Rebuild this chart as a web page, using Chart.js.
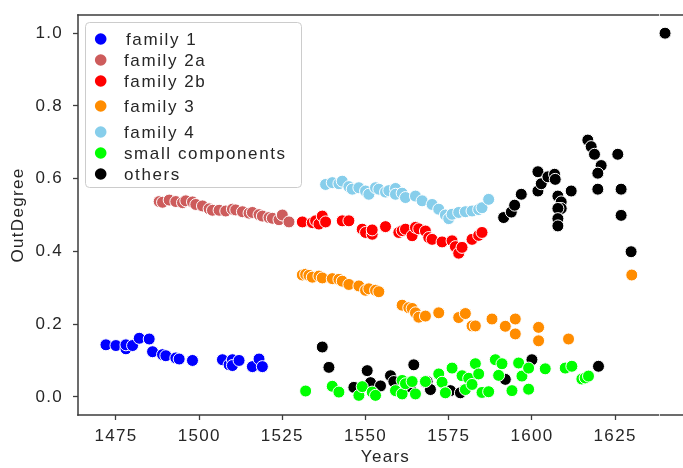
<!DOCTYPE html>
<html><head><meta charset="utf-8">
<script src="https://cdn.jsdelivr.net/npm/chart.js@4/dist/chart.umd.min.js"></script>
<style>
html,body{margin:0;padding:0;overflow:hidden;background:#fff;width:683px;height:468px;}
#wrap{position:absolute;left:0;top:0;width:700px;height:468px;}
canvas{display:block;}
</style></head><body>
<div id="wrap"><canvas id="c" width="700" height="468"></canvas></div>
<script>
// ---- data ----
const seriesNames = ["family 1","family 2a","family 2b","family 3","family 4","small components","others"];
const seriesColors = ["#0000ff","#cd5c5c","#ff0000","#ff8c00","#87ceeb","#00ff00","#000000"];

const fam1Years = [1472,1475,1478,1478,1480,1482,1485,1486,1489,1490,1493,1494,1498,1507,1509,1510,1510,1512,1516,1518,1519];
const fam1Vals  = [0.143,0.141,0.132,0.143,0.141,0.161,0.159,0.124,0.116,0.113,0.107,0.104,0.100,0.102,0.088,0.102,0.086,0.100,0.083,0.104,0.083];

const fam2aYears = [1488,1489,1491,1493,1495,1496,1498,1499,1501,1503,1504,1506,1508,1510,1511,1513,1515,1516,1518,1519,1521,1522,1524,1525,1527];
const fam2aVals  = [0.537,0.535,0.541,0.537,0.534,0.539,0.536,0.529,0.525,0.517,0.513,0.513,0.511,0.516,0.514,0.509,0.505,0.507,0.501,0.497,0.493,0.491,0.487,0.500,0.481];

const fam2bYears = [1531,1534,1535,1536,1537,1538,1543,1545,1549,1550,1552,1552,1556,1560,1561,1562,1564,1565,1566,1568,1569,1570,1573,1576,1577,1578,1579,1582,1584,1585];
const fam2bVals  = [0.481,0.479,0.484,0.475,0.497,0.481,0.484,0.484,0.461,0.452,0.447,0.459,0.468,0.452,0.457,0.461,0.443,0.466,0.462,0.456,0.438,0.433,0.426,0.429,0.413,0.395,0.411,0.433,0.444,0.452];

const fam3Years = [1531,1532,1533,1534,1536,1537,1540,1542,1543,1545,1548,1550,1551,1553,1554,1561,1563,1564,1565,1566,1568,1572,1578,1580,1582,1583,1588,1592,1595,1595,1602,1602,1611,1630];
const fam3Vals  = [0.335,0.337,0.334,0.329,0.332,0.327,0.325,0.323,0.318,0.309,0.305,0.293,0.297,0.293,0.289,0.252,0.245,0.243,0.231,0.219,0.222,0.231,0.218,0.229,0.195,0.195,0.214,0.194,0.214,0.173,0.191,0.154,0.159,0.335];

const fam4Years = [1538,1540,1542,1543,1545,1546,1548,1550,1551,1553,1554,1556,1557,1559,1559,1561,1562,1565,1567,1570,1572,1574,1575,1576,1578,1580,1582,1584,1585,1587];
const fam4Vals  = [0.584,0.589,0.586,0.593,0.578,0.571,0.575,0.566,0.557,0.575,0.571,0.563,0.567,0.573,0.557,0.560,0.548,0.552,0.539,0.529,0.516,0.500,0.490,0.502,0.507,0.509,0.511,0.515,0.520,0.543];

const smallYears = [1532,1540,1542,1548,1549,1552,1553,1559,1561,1561,1562,1564,1565,1568,1572,1573,1574,1574,1576,1579,1580,1581,1582,1583,1584,1585,1587,1589,1590,1591,1594,1596,1597,1599,1599,1604,1610,1612,1615,1616,1617];
const smallVals  = [0.016,0.029,0.013,0.004,0.028,0.013,0.004,0.017,0.045,0.008,0.036,0.042,0.008,0.042,0.063,0.040,0.011,0.011,0.079,0.058,0.020,0.051,0.034,0.091,0.063,0.012,0.014,0.102,0.059,0.091,0.017,0.093,0.057,0.079,0.021,0.077,0.079,0.084,0.049,0.052,0.057];

const otherYears = [1537,1539,1546.5,1550.5,1551.5,1554.5,1557.5,1558.5,1563.5,1564.5,1568,1568.5,1569.5,1575.5,1578.5,1592,1600,1620,
  1591.5,1593.8,1594.8,1596.8,1601.8,1601.8,1602.8,1604.8,1606.8,1607,1607.8,1608.8,1608.8,1607.8,1607.8,1607.8,1611.8,1616.8,1617.8,1618.8,1620.8,1619.8,1619.8,1625.8,1626.8,1626.8,1629.8,1640];
const otherVals  = [0.137,0.081,0.026,0.072,0.039,0.030,0.058,0.042,0.027,0.088,0.040,0.042,0.020,0.017,0.011,0.048,0.102,0.084,
  0.493,0.508,0.527,0.557,0.619,0.566,0.586,0.605,0.612,0.598,0.552,0.536,0.518,0.518,0.490,0.470,0.566,0.706,0.688,0.667,0.636,0.615,0.571,0.667,0.571,0.499,0.399,1.0];

const xTickVals = [1475,1500,1525,1550,1575,1600,1625];
const yTickVals = [0.0,0.2,0.4,0.6,0.8,1.0];
const xTitle = "Years";
const yTitle = "OutDegree";

// ---- build ----
const allYears = [fam1Years,fam2aYears,fam2bYears,fam3Years,fam4Years,smallYears,otherYears];
const allVals  = [fam1Vals,fam2aVals,fam2bVals,fam3Vals,fam4Vals,smallVals,otherVals];

const datasets = seriesNames.map((name,i)=>({
  label: name,
  data: allYears[i].map((x,j)=>({x:x,y:allVals[i][j]})),
  backgroundColor: seriesColors[i],
  borderColor: "#ffffff",
  borderWidth: 1,
  pointRadius: 6,
  pointHoverRadius: 6
}));

const FONT = "'Liberation Sans', Arial, sans-serif";
const TXT = "#262626";
const AXIS = "#3d3d3d";

const spacingPlugin = {
  id:'spacing',
  beforeDraw(chart){ chart.ctx.letterSpacing = '1.3px'; }
};

// spines drawn as filled bars (left, top, bottom); the right spine lies outside the visible window
const framePlugin = {
  id:'frame',
  beforeDatasetsDraw(chart){
    const a = chart.chartArea, ctx = chart.ctx;
    const w = 1.5, h = w / 2;
    ctx.save();
    ctx.fillStyle = AXIS;
    ctx.fillRect(a.left - h, a.top - h, 660 - a.left, w);
    ctx.fillRect(a.left - h, a.top - h, w, a.bottom - a.top + w);
    ctx.fillRect(a.left - h, a.bottom - h, 660 - a.left, w);
    ctx.fillRect(660, a.top - h, 40, w);
    ctx.fillRect(660, a.bottom - h, 40, w);
    ctx.restore();
  }
};

const legendPlugin = {
  id:'boxLegend',
  afterDatasetsDraw(chart){
    const ctx = chart.ctx;
    ctx.save();
    ctx.beginPath();
    ctx.roundRect(85.5,22.5,216,165,4);
    ctx.fillStyle = "rgba(255,255,255,0.85)";
    ctx.fill();
    ctx.strokeStyle = "#cccccc";
    ctx.lineWidth = 1;
    ctx.stroke();
    const rows = [39,60,81,106,132,153,174];
    ctx.font = "17px " + FONT;
    ctx.letterSpacing = '1.6px';
    ctx.textBaseline = 'middle';
    ctx.textAlign = 'left';
    chart.data.datasets.forEach((ds,i)=>{
      ctx.beginPath();
      ctx.arc(100.7, rows[i], 5.8, 0, Math.PI*2);
      ctx.fillStyle = ds.backgroundColor;
      ctx.fill();
      ctx.fillStyle = TXT;
      ctx.fillText(ds.label, i === 0 ? 126 : 124, rows[i]+1);
    });
    ctx.beginPath();
    ctx.restore();
  }
};

new Chart(document.getElementById('c'), {
  type: 'scatter',
  data: { datasets: datasets },
  options: {
    responsive: false,
    animation: false,
    layout: { padding: { left: 0, top: 15, right: 6, bottom: 0 } },
    plugins: { legend: { display: false }, tooltip: { enabled: false } },
    scales: {
      x: {
        type: 'linear', position: 'bottom',
        min: 1463.6, max: 1648.4,
        afterFit(s){ s.height = 53; s.paddingLeft = 0; s.paddingRight = 0; },
        afterBuildTicks(s){ s.ticks = xTickVals.map(v=>({value:v})); },
        grid: { display: true, drawOnChartArea: false, drawTicks: true, tickLength: 5, tickColor: AXIS, tickWidth: 1.3 },
        border: { display: false },
        ticks: { color: TXT, font: { family: FONT, size: 17 }, padding: 6, maxRotation: 0, callback: v => String(v) },
        title: { display: true, text: xTitle, color: TXT, font: { family: FONT, size: 17 }, padding: { top: -2, bottom: 0 } }
      },
      y: {
        type: 'linear', position: 'left',
        min: -0.05, max: 1.05,
        afterFit(s){ s.width = 78; s.paddingTop = 0; s.paddingBottom = 0; },
        afterBuildTicks(s){ s.ticks = yTickVals.map(v=>({value:v})); },
        grid: { display: true, drawOnChartArea: false, drawTicks: true, tickLength: 5, tickColor: AXIS, tickWidth: 1.3 },
        border: { display: false },
        ticks: { color: TXT, font: { family: FONT, size: 17 }, padding: 10, callback: v => Number(v).toFixed(1) },
        title: { display: true, text: yTitle, color: TXT, font: { family: FONT, size: 17 }, padding: { top: 8, bottom: 0 } }
      }
    }
  },
  plugins: [spacingPlugin, framePlugin, legendPlugin]
});
</script>
</body></html>
